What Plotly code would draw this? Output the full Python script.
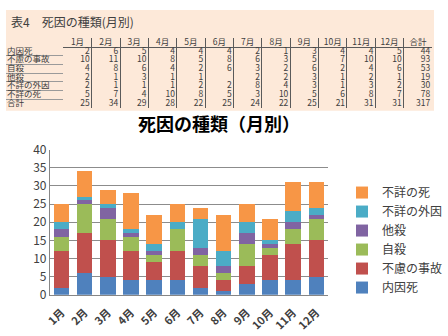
import plotly.graph_objects as go

months = ["1月", "2月", "3月", "4月", "5月", "6月", "7月", "8月", "9月", "10月", "11月", "12月"]
causes = ["内因死", "不慮の事故", "自殺", "他殺", "不詳の外因", "不詳の死"]
naiin = [2, 6, 5, 4, 4, 4, 2, 1, 3, 4, 4, 5]
furyo = [10, 11, 10, 8, 5, 8, 6, 3, 5, 7, 10, 10]
jisatsu = [4, 8, 6, 4, 2, 6, 3, 2, 6, 2, 4, 6]
tasatsu = [2, 1, 3, 1, 1, None, 2, 2, 3, 1, 2, 1]
fusho_gaiin = [2, 1, 1, 1, 2, 2, 8, 4, 3, 1, 3, 2]
fusho_shi = [5, 7, 4, 10, 8, 5, 3, 10, 5, 6, 8, 7]
cause_totals = [44, 93, 53, 19, 30, 78]
month_totals = [25, 34, 29, 28, 22, 25, 24, 22, 25, 21, 31, 31]
grand_total = 317

series = [naiin, furyo, jisatsu, tasatsu, fusho_gaiin, fusho_shi]
colors = ["#4F81BD", "#C0504D", "#9BBB59", "#8064A2", "#4BACC6", "#F79646"]

FONT = "Noto Sans CJK JP"
PEACH = "#FDE9D9"
TXT = "#404040"

fig = go.Figure()

# ---- table: number columns on x2/y2, label column on x3/y3 ----
label_w = 60
col_w = 29.7
ncols = 13
bounds = [i * col_w for i in range(ncols + 1)]
header = months + ["合計"]
row_labels = causes + ["合計"]
nrows = len(row_labels) + 1
TF = dict(family=FONT, size=8.5, color=TXT)

fig.add_trace(go.Scatter(
    x=[(i + 0.5) * col_w for i in range(ncols)], y=[0.5] * ncols,
    text=header, mode="text", textposition="middle center", textfont=TF,
    cliponaxis=False, xaxis="x2", yaxis="y2", showlegend=False, hoverinfo="skip"))
for i in range(ncols):
    if i < 12:
        vals = [s[i] for s in series] + [month_totals[i]]
    else:
        vals = cause_totals + [grand_total]
    txt = ["" if v is None else str(v) for v in vals]
    fig.add_trace(go.Scatter(
        x=[bounds[i + 1] - 2] * len(txt), y=[r + 1.5 for r in range(len(txt))],
        text=txt, mode="text", textposition="middle left", textfont=TF,
        cliponaxis=False, xaxis="x2", yaxis="y2", showlegend=False, hoverinfo="skip"))
fig.add_trace(go.Scatter(
    x=[1] * len(row_labels), y=[r + 1.5 for r in range(len(row_labels))],
    text=row_labels, mode="text", textposition="middle right", textfont=TF,
    cliponaxis=False, xaxis="x3", yaxis="y3", showlegend=False, hoverinfo="skip"))

# ---- stacked bars ----
for name, vals, c in zip(causes, series, colors):
    fig.add_trace(go.Bar(x=months, y=vals, name=name, marker=dict(color=c, line=dict(width=0))))

tbl_y = [1 - 103 / 336, 1 - 30 / 336]
fig.update_layout(
    width=448, height=336,
    margin=dict(l=0, r=0, t=0, b=0),
    paper_bgcolor="white", plot_bgcolor="rgba(0,0,0,0)",
    barmode="stack", bargap=0.33,
    font=dict(family=FONT, color=TXT),
    xaxis=dict(domain=[46 / 448, 337 / 448], tickangle=-45, showgrid=False,
               showline=True, linecolor="#868686", ticks="", ticklabelstandoff=6,
               tickfont=dict(family=FONT, size=11, color=TXT, weight="bold")),
    yaxis=dict(domain=[1 - 300 / 336, 1 - 147 / 336], range=[0, 40], dtick=5,
               showgrid=True, gridcolor="#8c8c8c", gridwidth=1,
               showline=True, linecolor="#868686", zeroline=False,
               tickfont=dict(family=FONT, size=12, color=TXT)),
    xaxis2=dict(domain=[label_w / 448, 446 / 448], range=[0, bounds[-1]], anchor="y2",
                tickmode="array", tickvals=bounds, showticklabels=False,
                showgrid=True, gridcolor="#5a5a5a", gridwidth=1, zeroline=False, ticks=""),
    yaxis2=dict(domain=tbl_y, range=[nrows, 0], anchor="x2",
                tickmode="array", tickvals=[0, 1, nrows], showticklabels=False,
                showgrid=True, gridcolor="#5a5a5a", gridwidth=1, zeroline=False, ticks=""),
    xaxis3=dict(domain=[0, label_w / 448], range=[0, label_w], anchor="y3",
                visible=False),
    yaxis3=dict(domain=tbl_y, range=[nrows, 0], anchor="x3",
                tickmode="array", tickvals=list(range(2, nrows + 1)), showticklabels=False,
                showgrid=True, gridcolor="#9a9a9a", gridwidth=1, zeroline=False, ticks=""),
    legend=dict(traceorder="reversed", x=352 / 448, xanchor="left",
                y=1 - 177 / 336, yanchor="top",
                font=dict(family=FONT, size=12, color=TXT),
                bgcolor="rgba(0,0,0,0)", itemwidth=30),
    shapes=[dict(type="rect", xref="paper", yref="paper", x0=0, x1=1,
                 y0=1 - 106 / 336, y1=1, fillcolor=PEACH, line=dict(width=0), layer="below")],
    annotations=[
        dict(text="表4　死因の種類(月別)", x=3 / 448, y=1 - 12.5 / 336, xref="paper", yref="paper",
             xanchor="left", yanchor="middle", showarrow=False,
             font=dict(family=FONT, size=12, color=TXT)),
        dict(text="<b>死因の種類（月別）</b>", x=223 / 448, y=1 - 119 / 336, xref="paper", yref="paper",
             xanchor="center", yanchor="middle", showarrow=False,
             font=dict(family=FONT, size=18, color="#000000")),
    ],
)

fig.write_html("out.html")
